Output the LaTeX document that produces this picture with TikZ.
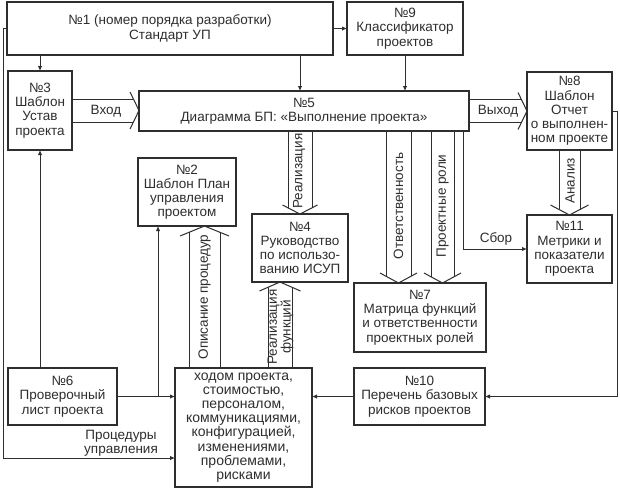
\documentclass[tikz,border=0pt]{standalone}
\usepackage{fontspec}
\setmainfont{Liberation Sans}
\usetikzlibrary{calc,arrows.meta}
\definecolor{ink}{HTML}{2E2E2E}
\newcommand\fs{\fontsize{13.5}{14.2}\selectfont}
\tikzset{
  box/.style={draw=ink, line width=1.1pt, text=ink, align=center, inner sep=0pt, outer sep=0pt, font=\fs},
  conn/.style={draw=ink, line width=0.9pt},
  arr/.style={conn, -{Latex[length=5pt,width=4.5pt]}},
  wline/.style={draw=ink, line width=1pt, line join=miter},
  lbl/.style={text=ink, font=\fs, inner sep=0pt, align=center},
}
% hollow (block) arrow: start, end, shaft half width, wing half width, head length
\newcommand\hollow[5]{%
  \coordinate (hA) at (#1);
  \coordinate (hB) at (#2);
  \coordinate (hC) at ($(hB)!#5pt!(hA)$);
  \pgfmathsetmacro\hdist{#5*#3/#4}
  \coordinate (hD) at ($(hB)!\hdist pt!(hA)$);
  \draw[wline] ($(hA)!#3pt!90:(hB)$) -- ($(hD)!#3pt!90:(hB)$);
  \draw[wline] ($(hA)!#3pt!-90:(hB)$) -- ($(hD)!#3pt!-90:(hB)$);
  \draw[wline] ($(hC)!#4pt!90:(hB)$) -- (hB) -- ($(hC)!#4pt!-90:(hB)$);
}
\begin{document}
\begin{tikzpicture}[x=1pt,y=-1pt]
\useasboundingbox[fill=white] (0,0) rectangle (620,488);

% boxes
\node[box, minimum width=326pt, minimum height=53pt] (n1) at (170,28.5) {№1 (номер порядка разработки)\\Стандарт УП};
\node[box, minimum width=116pt, minimum height=53pt] (n9) at (405,28.5) {№9\\Классификатор\\проектов};
\node[box, minimum width=64pt, minimum height=79pt] (n3) at (40,110.5) {№3\\Шаблон\\Устав\\проекта};
\node[box, minimum width=330pt, minimum height=40pt] (n5) at (304,111) {№5\\Диаграмма БП: «Выполнение проекта»};
\node[box, minimum width=85pt, minimum height=78pt] (n8) at (569.5,111) {№8\\Шаблон\\Отчет\\о выполнен-\\ном проекте};
\node[box, minimum width=98pt, minimum height=68pt] (n2) at (187,192) {№2\\Шаблон План\\управления\\проектом};
\node[box, minimum width=96pt, minimum height=68pt] (n4) at (300,248) {№4\\Руководство\\по использо-\\ванию ИСУП};
\node[box, minimum width=85pt, minimum height=68pt] (n11) at (569.5,249) {№11\\Метрики и\\показатели\\проекта};
\node[box, minimum width=132pt, minimum height=69pt] (n7) at (420,317.5) {№7\\Матрица функций\\и ответственности\\проектных ролей};
\node[box, minimum width=109pt, minimum height=57pt] (n6) at (62.5,396.5) {№6\\Проверочный\\лист проекта};
\node[box, minimum width=137pt, minimum height=119pt, font=\fontsize{14}{14.2}\selectfont] (nb) at (243.5,427.5) {ходом проекта,\\стоимостью,\\персоналом,\\коммуникациями,\\конфигурацией,\\изменениями,\\проблемами,\\рисками};
\node[box, minimum width=131pt, minimum height=57pt] (n10) at (419.5,396.5) {№10\\Перечень базовых\\рисков проектов};

% helper coordinates
\coordinate (x1) at ([xshift=-4pt]n5.north);
\coordinate (xo) at ([xshift=-21.5pt]n7.north);
\coordinate (xp) at ([xshift=22.5pt]n7.north);
\coordinate (xd) at ([xshift=17.5pt]n2.south);
\coordinate (xf) at ([xshift=-20pt]n4.south);
\coordinate (xb) at ([xshift=-29pt]n2.south);
\coordinate (xs) at ([xshift=159pt]n5.south);
\coordinate (rl) at (3,458);

% thin connectors
\draw[arr] (n1.west) -| (rl) -- (rl -| nb.west);
\draw[arr] (n3.north |- n1.south) -- (n3.north);
\draw[arr] (n1.east) -- (n9.west);
\draw[arr] (x1 |- n1.south) -- (x1);
\draw[arr] (n9.south) -- (n9.south |- n5.north);
\draw[arr] (xs) |- (n11.west);
\draw[arr] (n8.east) -- ++(5,0) |- (n10.east);
\draw[arr] (n10.west) -- (nb.east |- n10.west);
\draw[arr] (n6.east) -- (nb.west |- n6.east);
\draw[arr] (xb |- n6.east) -- (xb);
\draw[arr] (n3.south |- n6.north) -- (n3.south);

% block arrows
\hollow{n3.east}{n5.west |- n3.east}{11.5}{18.5}{9}
\hollow{n5.east}{n8.west |- n5.east}{11.5}{18.5}{9}
\hollow{n4.north |- n5.south}{n4.north}{12}{17.5}{9}
\hollow{xo |- n5.south}{xo}{12.5}{18.5}{10}
\hollow{xp |- n5.south}{xp}{11.5}{18.5}{10}
\hollow{n8.south}{n11.north}{10.5}{19}{10}
\hollow{xd |- nb.north}{xd}{15.5}{24.5}{10}
\hollow{xf |- nb.north}{xf}{12}{20.5}{9}

% labels
\node[lbl] (lin) at (106,111) {Вход};
\node[lbl] (lout) at (498,111) {Выход};
\node[lbl, rotate=90] (lreal) at (299,171) {Реализация};
\node[lbl, rotate=90] (lotv) at (398.5,206) {Ответственность};
\node[lbl, rotate=90] (lrol) at (442.5,206) {Проектные роли};
\node[lbl, rotate=90] (lan) at (570,181) {Анализ};
\node[lbl, rotate=90] (lop) at (204.5,297) {Описание процедур};
\node[lbl, rotate=90, font=\fontsize{13.5}{12.5}\selectfont] (lrf) at (280.5,327) {Реализация\\функций};
\node[lbl] (lsb) at (496,239) {Сбор};
\node[lbl] (lpr) at (121,443) {Процедуры\\управления};
\end{tikzpicture}
\end{document}
